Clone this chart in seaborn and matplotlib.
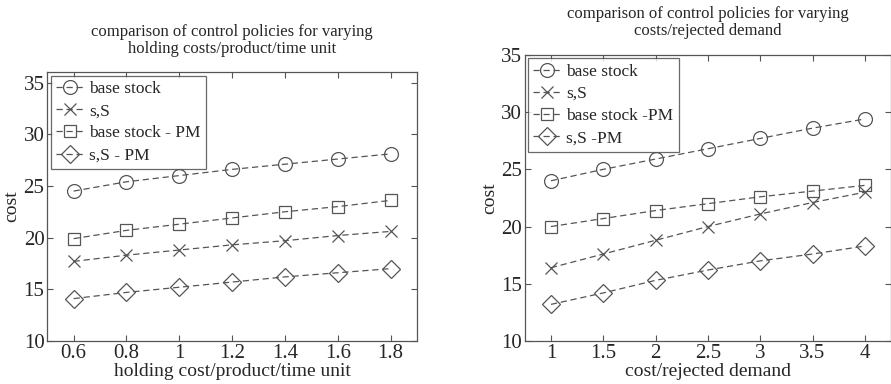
import pandas as pd
import matplotlib
matplotlib.use("Agg")
import matplotlib.pyplot as plt
import seaborn as sns

# left panel: holding cost/product/time unit
holding_x = [0.6, 0.8, 1.0, 1.2, 1.4, 1.6, 1.8]
holding_base = [24.5, 25.4, 26.0, 26.6, 27.1, 27.6, 28.1]
holding_sS = [17.7, 18.3, 18.8, 19.3, 19.7, 20.2, 20.6]
holding_base_pm = [19.9, 20.7, 21.3, 21.9, 22.5, 23.0, 23.6]
holding_sS_pm = [14.1, 14.7, 15.2, 15.7, 16.2, 16.6, 17.0]

# right panel: cost/rejected demand
reject_x = [1.0, 1.5, 2.0, 2.5, 3.0, 3.5, 4.0]
reject_base = [24.0, 25.0, 25.9, 26.8, 27.7, 28.6, 29.4]
reject_sS = [16.4, 17.6, 18.8, 20.0, 21.1, 22.1, 23.0]
reject_base_pm = [20.0, 20.7, 21.4, 22.0, 22.6, 23.1, 23.6]
reject_sS_pm = [13.2, 14.2, 15.3, 16.2, 17.0, 17.6, 18.3]

left_labels = ["base stock", "s,S", "base stock - PM", "s,S - PM"]
right_labels = ["base stock", "s,S", "base stock -PM", "s,S -PM"]
markers = ["o", "x", "s", "D"]
sizes = [10, 8, 9, 9]

sns.set_style("ticks")
plt.rcParams["font.family"] = ["Liberation Serif", "DejaVu Serif"]
plt.rcParams["xtick.direction"] = "in"
plt.rcParams["ytick.direction"] = "in"

fig = plt.figure(figsize=(8.91, 3.84), dpi=100)
ax1 = fig.add_axes([0.053, 0.112, 0.415, 0.700])
ax2 = fig.add_axes([0.589, 0.112, 0.411, 0.745])

panels = [
    (ax1, holding_x, [holding_base, holding_sS, holding_base_pm, holding_sS_pm], left_labels,
     "comparison of control policies for varying\nholding costs/product/time unit",
     "holding cost/product/time unit", (0.5, 1.9), (10, 36), [0.6, 0.8, 1, 1.2, 1.4, 1.6, 1.8],
     ["0.6", "0.8", "1", "1.2", "1.4", "1.6", "1.8"]),
    (ax2, reject_x, [reject_base, reject_sS, reject_base_pm, reject_sS_pm], right_labels,
     "comparison of control policies for varying\ncosts/rejected demand",
     "cost/rejected demand", (0.75, 4.25), (10, 35), [1, 1.5, 2, 2.5, 3, 3.5, 4],
     ["1", "1.5", "2", "2.5", "3", "3.5", "4"]),
]

for ax, xs, series, labels, title, xlabel, xlim, ylim, xticks, xticklabels in panels:
    for ys, lab, mk, ms in zip(series, labels, markers, sizes):
        df = pd.DataFrame({"x": xs, "cost": ys})
        sns.lineplot(data=df, x="x", y="cost", ax=ax, label=lab, color="#555555",
                     linestyle=(0, (5, 3)), linewidth=0.9, marker=mk, markersize=ms,
                     markerfacecolor="none", markeredgecolor="#555555", markeredgewidth=0.9)
    ax.set_xlim(*xlim)
    ax.set_ylim(*ylim)
    ax.set_xticks(xticks)
    ax.set_xticklabels(xticklabels)
    ax.set_yticks([10, 15, 20, 25, 30, 35])
    ax.tick_params(labelsize=15, top=True, right=True, length=4, width=0.8, pad=2, color="#555555")
    ax.set_title(title, fontsize=12, pad=14, linespacing=1.1)
    ax.set_xlabel(xlabel, fontsize=14, labelpad=0)
    ax.set_ylabel("cost", fontsize=14, labelpad=2)
    for sp in ax.spines.values():
        sp.set_color("#555555")
        sp.set_linewidth(0.9)
    leg = ax.legend(loc="upper left", fontsize=12.5, frameon=True, fancybox=False,
                    borderaxespad=0.2, handlelength=1.6, handletextpad=0.3,
                    borderpad=0.3, labelspacing=0.35)
    leg.get_frame().set_edgecolor("#444444")
    leg.get_frame().set_linewidth(0.9)

fig.savefig("out.png", dpi=100)
